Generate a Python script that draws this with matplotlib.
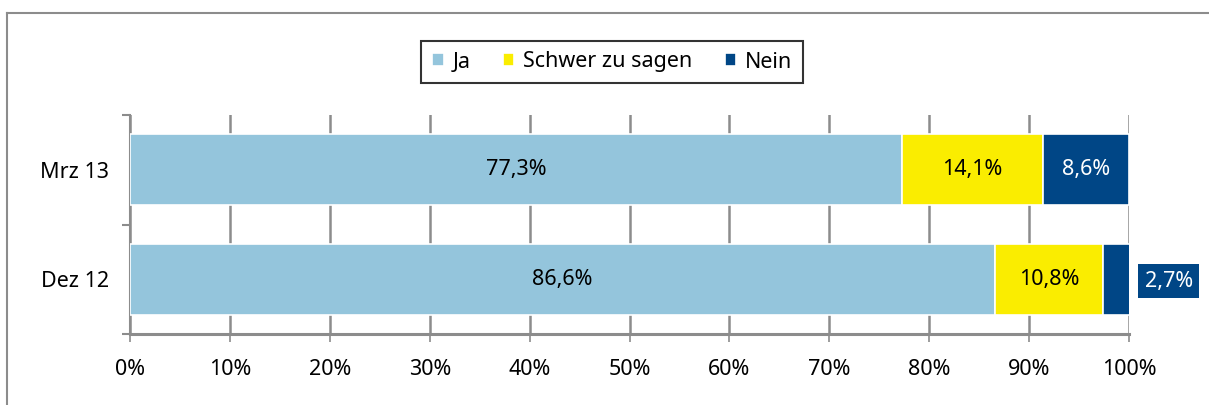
import matplotlib.pyplot as plt
import numpy as np
from matplotlib.lines import Line2D

plt.rcParams["font.family"] = ["Noto Sans", "DejaVu Sans"]

categories = ["Dez 12", "Mrz 13"]
series_names = ["Ja", "Schwer zu sagen", "Nein"]
ja = [86.6, 77.3]
schwer = [10.8, 14.1]
nein = [2.7, 8.6]
labels_ja = ["86,6%", "77,3%"]
labels_schwer = ["10,8%", "14,1%"]
labels_nein = ["2,7%", "8,6%"]

colors = ["#94c5dc", "#faed00", "#004686"]
grey = "#8c8c8c"
fs = 15.5

W, H = 1209, 405
fig = plt.figure(figsize=(W / 100, H / 100), dpi=100)
ax = fig.add_axes([130 / W, 1 - 334 / H, (1129 - 130) / W, (334 - 115) / H])

y = np.arange(len(categories))
h = 0.65
left = np.zeros(len(categories))
for vals, name, col in zip([ja, schwer, nein], series_names, colors):
    ax.barh(y, vals, left=left, height=h, color=col, edgecolor="white",
            linewidth=1.2, label=name, zorder=3)
    left = left + np.array(vals)

# value labels (small "Nein" segment gets its label outside in a box)
for i in range(len(categories)):
    ax.text(ja[i] / 2, y[i], labels_ja[i], ha="center", va="center",
            fontsize=fs, color="black", zorder=4)
    ax.text(ja[i] + schwer[i] / 2, y[i], labels_schwer[i], ha="center",
            va="center", fontsize=fs, color="black", zorder=4)
    if nein[i] > 5:
        ax.text(ja[i] + schwer[i] + nein[i] / 2, y[i], labels_nein[i],
                ha="center", va="center", fontsize=fs, color="white", zorder=4)
    else:
        ax.text(104.0, y[i] - 0.02, labels_nein[i], ha="center", va="center",
                fontsize=fs, color="white", zorder=4, clip_on=False,
                bbox=dict(boxstyle="square,pad=0.3", fc=colors[2], ec="none"))

ax.set_xlim(0, 100)
ax.set_ylim(-0.5, 1.5)
ax.set_xticks(np.arange(0, 101, 10))
ax.set_xticklabels([f"{v}%" for v in range(0, 101, 10)], fontsize=fs)
ax.set_yticks(y)
ax.set_yticklabels(categories, fontsize=fs)
ax.set_yticks([-0.5, 0.5, 1.5], minor=True)
ax.tick_params(axis="y", which="major", length=0, pad=15)
ax.tick_params(axis="y", which="minor", length=6, color=grey, width=1.5)
ax.tick_params(axis="x", length=6, color=grey, width=1.2, pad=12)
ax.xaxis.grid(True, color=grey, linewidth=1.8, zorder=0)
ax.set_axisbelow(True)
for s in ["top", "right"]:
    ax.spines[s].set_visible(False)
ax.spines["left"].set_color(grey)
ax.spines["left"].set_linewidth(1.5)
ax.spines["bottom"].set_color(grey)
ax.spines["bottom"].set_linewidth(2.2)

leg = fig.legend(loc="center", bbox_to_anchor=(612 / W, 1 - 62 / H), ncol=3,
                 fontsize=fs, frameon=True, fancybox=False, handlelength=0.55,
                 handleheight=0.55, handletextpad=0.4, columnspacing=1.5,
                 borderpad=0.5)
leg.get_frame().set_edgecolor("black")
leg.get_frame().set_linewidth(1.5)

# outer frame of the figure panel
fig.add_artist(Line2D([7 / W, 1], [1 - 13 / H, 1 - 13 / H], color=grey,
                      linewidth=1.5, transform=fig.transFigure))
fig.add_artist(Line2D([7 / W, 7 / W], [0, 1 - 13 / H], color=grey,
                      linewidth=1.5, transform=fig.transFigure))

fig.savefig("out.png", dpi=100)
